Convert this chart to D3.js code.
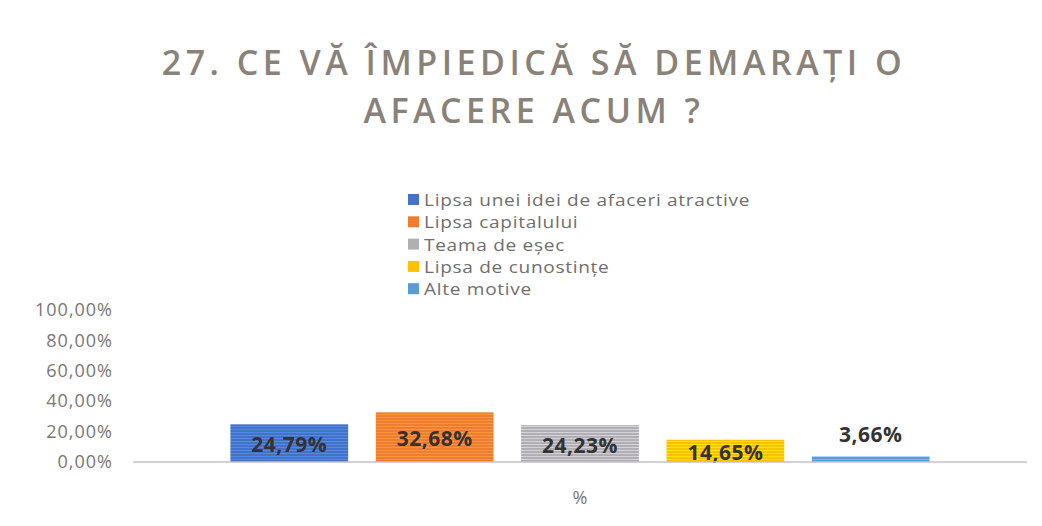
<!DOCTYPE html>
<html>
<head>
<meta charset="utf-8">
<script src="https://cdn.jsdelivr.net/npm/d3@7"></script>
<style>
  body { margin: 0; background: #fff; }
  svg { display: block; }
</style>
</head>
<body>
<svg width="1042" height="526"></svg>
<script>
const titleLines = ['27. CE VĂ ÎMPIEDICĂ SĂ DEMARAȚI O', 'AFACERE ACUM ?'];
const categories = ['%'];
const seriesNames = [
  'Lipsa unei idei de afaceri atractive',
  'Lipsa capitalului',
  'Teama de eșec',
  'Lipsa de cunostințe',
  'Alte motive'
];
const seriesValues = [24.79, 32.68, 24.23, 14.65, 3.66];
const seriesColors = ['#4472c4', '#ed7d31', '#b1afb4', '#ffc000', '#5b9bd5'];
const yTicks = [0, 20, 40, 60, 80, 100];

const svg = d3.select('svg');
const font = '"Open Sans", "Noto Sans", sans-serif';
const fmt = (v) => v.toFixed(2).replace('.', ',') + '%';

// title
svg.append('g')
  .selectAll('text')
  .data(titleLines)
  .join('text')
  .attr('x', 534)
  .attr('y', (d, i) => 75 + i * 48)
  .attr('text-anchor', 'middle')
  .attr('font-family', font)
  .attr('font-size', 34)
  .attr('font-weight', 600)
  .attr('letter-spacing', 4.5)
  .attr('fill', '#8a8279')
  .text((d) => d);

// legend (text a bit stretched, like the scan)
const legend = svg.append('g').attr('transform', 'translate(408,200)');
const items = legend.selectAll('g')
  .data(seriesNames)
  .join('g')
  .attr('transform', (d, i) => `translate(0,${i * 22.3})`);
items.append('rect')
  .attr('x', 0).attr('y', -6)
  .attr('width', 11).attr('height', 11)
  .attr('fill', (d, i) => seriesColors[i]);
items.append('text')
  .attr('transform', 'translate(16,6) scale(1.19,1)')
  .attr('font-family', font)
  .attr('font-size', 16)
  .attr('letter-spacing', 0.6)
  .attr('fill', '#6e6e6e')
  .text((d) => d);

// stripe patterns
const defs = svg.append('defs');
seriesColors.forEach((c, i) => {
  const p = defs.append('pattern')
    .attr('id', 'stripe' + i)
    .attr('patternUnits', 'userSpaceOnUse')
    .attr('width', 8).attr('height', 3);
  p.append('rect').attr('width', 8).attr('height', 3).attr('fill', c);
  p.append('rect').attr('y', 2).attr('width', 8).attr('height', 1)
    .attr('fill', d3.color(c).brighter(0.5));
});

const margin = { left: 133, right: 15, top: 310, bottom: 64 };
const width = 1042 - margin.left - margin.right;
const height = 526 - margin.top - margin.bottom;
const g = svg.append('g').attr('transform', `translate(${margin.left},${margin.top})`);

const y = d3.scaleLinear().domain([0, 100]).range([height, 0]);
const x0 = d3.scaleBand().domain(categories).range([0, width]).padding(0);
const x1 = d3.scaleBand().domain(seriesNames).range([0, x0.bandwidth()]).paddingInner(0.19).paddingOuter(0.67);

// y axis labels
const yAxis = g.append('g')
  .call(d3.axisLeft(y).tickValues(yTicks).tickSize(0).tickPadding(20).tickFormat(fmt));
yAxis.select('.domain').remove();
yAxis.selectAll('text')
  .attr('font-family', font)
  .attr('font-size', 18)
  .attr('letter-spacing', 1)
  .attr('fill', '#7a7676');

// bars
const grp = g.append('g')
  .selectAll('g')
  .data(categories)
  .join('g')
  .attr('transform', (d) => `translate(${x0(d)},0)`);

grp.selectAll('rect')
  .data(seriesNames.map((n, i) => ({ name: n, value: seriesValues[i], i })))
  .join('rect')
  .attr('x', (d) => x1(d.name))
  .attr('y', (d) => y(d.value))
  .attr('width', x1.bandwidth())
  .attr('height', (d) => y(0) - y(d.value))
  .attr('fill', (d) => `url(#stripe${d.i})`);

grp.selectAll('text')
  .data(seriesNames.map((n, i) => ({ name: n, value: seriesValues[i], i })))
  .join('text')
  .attr('x', (d) => x1(d.name) + x1.bandwidth() / 2)
  .attr('y', (d) => {
    const h = y(0) - y(d.value);
    return h < 10 ? y(d.value) - 14 : y(d.value) + h / 2 + 9;
  })
  .attr('text-anchor', 'middle')
  .attr('font-family', font)
  .attr('font-size', 21)
  .attr('font-weight', 'bold')
  .attr('letter-spacing', 0.5)
  .attr('fill', '#333')
  .text((d) => fmt(d.value));

// baseline
g.append('line')
  .attr('x1', 0).attr('x2', width)
  .attr('y1', y(0)).attr('y2', y(0))
  .attr('stroke', '#c4c0cc')
  .attr('stroke-width', 1.5);

// x axis label
const xAxis = g.append('g')
  .attr('transform', `translate(0,${height})`)
  .call(d3.axisBottom(x0).tickSize(0).tickPadding(29));
xAxis.select('.domain').remove();
xAxis.selectAll('text')
  .attr('font-family', font)
  .attr('font-size', 18)
  .attr('fill', '#777');
</script>
</body>
</html>
